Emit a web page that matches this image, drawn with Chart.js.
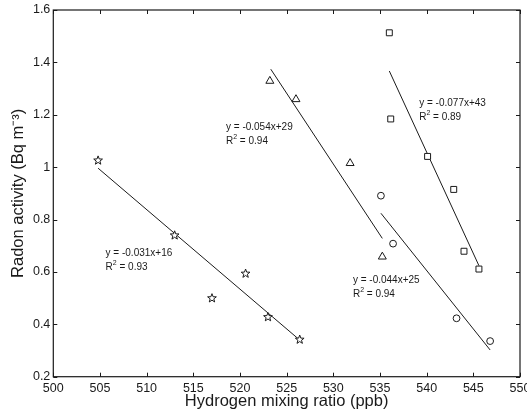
<!DOCTYPE html>
<html>
<head>
<meta charset="utf-8">
<script src="https://cdn.jsdelivr.net/npm/chart.js@4/dist/chart.umd.min.js"></script>
<style>
  body { margin: 0; background: #fff; }
  canvas { display: block; }
</style>
</head>
<body>
<canvas id="radon" width="527" height="415"></canvas>
<script>
// ---------- DATA ----------
const xTicks = [500, 505, 510, 515, 520, 525, 530, 535, 540, 545, 550];
const yTicks = [0.2, 0.4, 0.6, 0.8, 1, 1.2, 1.4, 1.6];

// stars
const hydrogenStar = [504.8, 513.0, 517.0, 520.6, 523.0, 526.4];
const radonStar = [1.027, 0.741, 0.501, 0.595, 0.429, 0.343];
// triangles
const hydrogenTri = [523.2, 526.0, 531.8, 535.25];
const radonTri = [1.329, 1.259, 1.015, 0.658];
// squares
const hydrogenSq = [536.0, 536.15, 540.1, 542.9, 544.0, 545.6];
const radonSq = [1.513, 1.184, 1.041, 0.915, 0.679, 0.611];
// circles
const hydrogenCirc = [535.1, 536.4, 543.2, 546.8];
const radonCirc = [0.891, 0.708, 0.423, 0.336];

// fitted lines (end points)
const fitStarX = [504.8, 526.4];
const fitStarY = [0.996, 0.340];
const fitTriX = [523.3, 535.25];
const fitTriY = [1.374, 0.728];
const fitSqX = [536.0, 545.6];
const fitSqY = [1.367, 0.624];
const fitCircX = [535.1, 546.8];
const fitCircY = [0.824, 0.302];

const fitEquations = ['y = -0.031x+16', 'y = -0.054x+29', 'y = -0.077x+43', 'y = -0.044x+25'];
const fitR2 = ['0.93', '0.94', '0.89', '0.94'];

// where the equation text sits (data coords of first line, left edge)
const labelAnchors = [[505.6, 0.673], [518.5, 1.154], [539.2, 1.244], [532.1, 0.569]];

const INK = '#1a1a1a';
const FONT = "'Liberation Sans', Arial, sans-serif";

function toPoints(xs, ys) {
  return xs.map((x, i) => ({ x: x, y: ys[i] }));
}

function markerSet(data, style, radius) {
  return {
    data: data,
    pointStyle: style,
    pointRadius: radius,
    pointBackgroundColor: '#fff',
    pointBorderColor: INK,
    pointBorderWidth: 1,
    showLine: false,
    order: 1,
  };
}

function fitSet(data) {
  return {
    data: data,
    showLine: true,
    borderColor: INK,
    borderWidth: 1,
    pointRadius: 0,
    fill: false,
    order: 2,
  };
}

// pentagram markers, drawn at the positions the scatter dataset got from the scales
const starPlugin = {
  id: 'stars',
  afterDatasetsDraw(chart) {
    const ctx = chart.ctx;
    const meta = chart.getDatasetMeta(0);
    ctx.save();
    ctx.strokeStyle = INK;
    ctx.fillStyle = '#fff';
    ctx.lineWidth = 1;
    meta.data.forEach(pt => {
      ctx.beginPath();
      for (let i = 0; i < 10; i++) {
        const r = i % 2 === 0 ? 4.6 : 1.9;
        const a = -Math.PI / 2 + i * Math.PI / 5;
        const px = pt.x + r * Math.cos(a);
        const py = pt.y + 0.4 + r * Math.sin(a);
        if (i === 0) ctx.moveTo(px, py); else ctx.lineTo(px, py);
      }
      ctx.closePath();
      ctx.fill();
      ctx.stroke();
    });
    ctx.restore();
  }
};

// box with inward ticks on all sides + equation text
const framePlugin = {
  id: 'frame',
  afterDatasetsDraw(chart) {
    const ctx = chart.ctx;
    const a = chart.chartArea;
    const xs = chart.scales.x;
    const ys = chart.scales.y;
    const tl = 4;
    ctx.save();
    ctx.strokeStyle = INK;
    ctx.lineWidth = 1.2;
    ctx.strokeRect(a.left, a.top, a.right - a.left, a.bottom - a.top);
    ctx.lineWidth = 1;
    ctx.beginPath();
    xTicks.forEach(v => {
      const px = Math.round(xs.getPixelForValue(v)) + 0.5;
      ctx.moveTo(px, a.bottom); ctx.lineTo(px, a.bottom - tl);
      ctx.moveTo(px, a.top); ctx.lineTo(px, a.top + tl);
    });
    yTicks.forEach(v => {
      const py = Math.round(ys.getPixelForValue(v)) + 0.5;
      ctx.moveTo(a.left, py); ctx.lineTo(a.left + tl, py);
      ctx.moveTo(a.right, py); ctx.lineTo(a.right - tl, py);
    });
    ctx.stroke();

    ctx.fillStyle = INK;
    ctx.textBaseline = 'middle';
    ctx.textAlign = 'left';
    labelAnchors.forEach((anc, i) => {
      const px = xs.getPixelForValue(anc[0]);
      const py = ys.getPixelForValue(anc[1]);
      ctx.font = '10px ' + FONT;
      ctx.fillText(fitEquations[i], px, py);
      const y2 = py + 14;
      ctx.fillText('R', px, y2);
      const wR = ctx.measureText('R').width;
      ctx.font = '7px ' + FONT;
      ctx.fillText('2', px + wR, y2 - 4);
      const w2 = ctx.measureText('2').width;
      ctx.font = '10px ' + FONT;
      ctx.fillText(' = ' + fitR2[i], px + wR + w2, y2);
    });
    ctx.restore();
  }
};

const fmt = v => String(+Number(v).toFixed(1));

new Chart(document.getElementById('radon'), {
  type: 'scatter',
  data: {
    datasets: [
      markerSet(toPoints(hydrogenStar, radonStar), 'circle', 0),
      markerSet(toPoints(hydrogenTri, radonTri), 'triangle', 4.6),
      markerSet(toPoints(hydrogenSq, radonSq), 'rect', 4.2),
      markerSet(toPoints(hydrogenCirc, radonCirc), 'circle', 3.4),
      fitSet(toPoints(fitStarX, fitStarY)),
      fitSet(toPoints(fitTriX, fitTriY)),
      fitSet(toPoints(fitSqX, fitSqY)),
      fitSet(toPoints(fitCircX, fitCircY)),
    ],
  },
  options: {
    responsive: false,
    animation: false,
    layout: { padding: { top: 10, right: 7, left: 0, bottom: 0 } },
    plugins: {
      legend: { display: false },
      tooltip: { enabled: false },
    },
    scales: {
      x: {
        type: 'linear',
        min: 500,
        max: 550,
        afterBuildTicks: s => { s.ticks = xTicks.map(v => ({ value: v })); },
        afterFit: s => { s.height = 38.3; s.paddingLeft = 0; s.paddingRight = 0; },
        grid: { display: false, drawTicks: false },
        border: { display: false },
        ticks: {
          padding: 4,
          color: INK,
          font: { family: FONT, size: 12.5 },
          maxRotation: 0,
          callback: fmt,
        },
        title: {
          display: true,
          text: 'Hydrogen mixing ratio (ppb)',
          color: INK,
          font: { family: FONT, size: 16.5 },
          padding: { top: 0, bottom: 4 },
        },
      },
      y: {
        type: 'linear',
        min: 0.2,
        max: 1.6,
        afterBuildTicks: s => { s.ticks = yTicks.map(v => ({ value: v })); },
        afterFit: s => { s.width = 53.3; s.paddingTop = 0; s.paddingBottom = 0; },
        grid: { display: false, drawTicks: false },
        border: { display: false },
        ticks: {
          padding: 3,
          color: INK,
          font: { family: FONT, size: 12.5 },
          callback: fmt,
        },
        title: {
          display: true,
          text: 'Radon activity (Bq m⁻³)',
          color: INK,
          font: { family: FONT, size: 16.5 },
          padding: { top: 9, bottom: 0 },
        },
      },
    },
  },
  plugins: [framePlugin, starPlugin],
});
</script>
</body>
</html>
